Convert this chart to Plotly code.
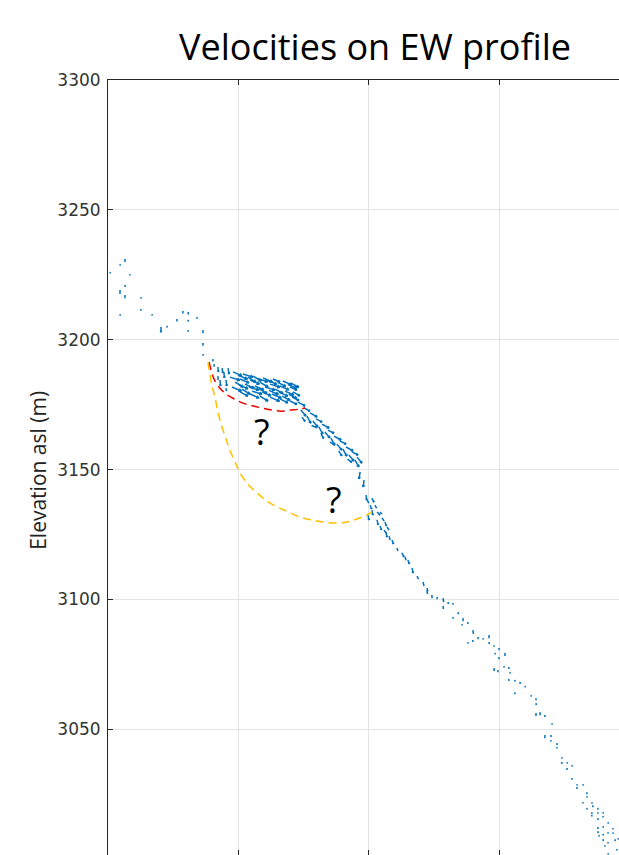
import math
import plotly.graph_objects as go

# ---------------- data (horizontal distance in m, elevation asl in m) ----------------
# sparse vectors on the upper slope
upper_x = [6.5, 4.6, 0.8, 8.4, 6.5, 4.6, 6.5, 12.6, 12.6, 4.6, 16.9, 28.7, 30.7, 26.4, 30.7, 34.1,
           20.3, 22.6, 30.7, 36.4, 36.4, 36.4, 40.2, 40.6]
upper_y = [3231.1, 3229.1, 3226.1, 3225.3, 3221.1, 3219.1, 3217.2, 3216.4, 3211.8, 3209.9, 3209.9,
           3211.1, 3210.7, 3208.0, 3207.6, 3208.7, 3204.9, 3205.3, 3203.7, 3203.7, 3198.7, 3194.5,
           3192.6, 3190.6]
upper_u = [0.0, 0.1, 0.1, 0.0, 0.1, 0.0, 0.0, 0.1, 0.0, 0.1, 0.0, 0.0, 0.1, 0.0, 0.1, 0.0,
           0.0, 0.1, 0.0, 0.0, 0.0, 0.1, 0.0, 0.1]
upper_v = [-1.2, -0.6, -0.6, -0.6, -0.8, -1.5, -1.2, -0.6, -0.6, -0.6, -0.6, -1.0, -1.0, -1.0,
           -0.6, -0.6, -2.0, -0.6, -0.6, -1.2, -1.0, -0.6, -1.0, -1.0]

# headwall vectors (nearly vertical)
head_x = [42.1, 42.1, 42.9, 43.7, 44.4, 45.2, 46.0, 45.2]
head_y = [3189.5, 3186.0, 3184.5, 3189.1, 3187.6, 3184.5, 3189.1, 3181.4]
head_u = [0.2, 0.1, 0.2, 0.3, 0.2, 0.3, 0.4, 0.2]
head_v = [-1.9, -1.5, -2.3, -1.9, -2.3, -2.3, -2.3, -1.2]

# fast moving body (dense cluster)
body_x = [47.9, 51.7, 55.6, 59.4, 63.2, 67.0, 70.1,
          46.7, 50.6, 54.4, 58.2, 62.1, 65.9, 69.7,
          48.7, 52.5, 56.3, 60.2, 64.0, 67.8, 70.9,
          47.5, 51.3, 55.2, 59.0, 62.8, 66.7, 70.5,
          50.6, 54.4, 58.2, 62.1, 65.9, 69.7,
          49.8, 53.6, 57.4, 61.3, 65.1, 68.9,
          50.2, 54.0, 57.8, 61.7, 65.5, 69.3]
body_y = [3187.6, 3186.8, 3186.0, 3185.3, 3184.9, 3184.1, 3183.3,
          3185.6, 3184.9, 3184.5, 3183.7, 3182.9, 3182.2, 3181.8,
          3183.7, 3182.9, 3182.2, 3181.8, 3181.0, 3180.2, 3179.9,
          3181.8, 3181.0, 3180.2, 3179.9, 3179.1, 3178.3, 3177.9,
          3179.9, 3179.1, 3178.3, 3177.9, 3177.2, 3176.4,
          3186.4, 3185.6, 3185.0, 3184.3, 3183.6, 3182.8,
          3182.6, 3181.8, 3181.2, 3180.5, 3179.8, 3179.0]
body_u = [3.4, 3.8, 3.1, 3.6, 2.7, 3.4, 3.0,
          3.8, 3.4, 3.6, 3.1, 3.8, 3.4, 2.7,
          3.1, 3.6, 3.4, 3.8, 3.0, 3.4, 2.6,
          3.6, 3.1, 3.8, 3.4, 3.6, 3.0, 2.7,
          3.0, 3.4, 3.1, 3.6, 3.0, 2.7,
          3.6, 3.1, 3.8, 3.4, 3.0, 3.4,
          3.4, 3.8, 3.1, 3.6, 3.4, 3.0]
body_v = [-1.5, -1.2, -1.9, -1.6, -1.2, -1.5, -1.6,
          -1.2, -1.5, -1.6, -1.9, -1.2, -1.5, -1.2,
          -1.9, -1.6, -1.5, -1.2, -1.6, -1.5, -1.5,
          -1.6, -1.9, -1.2, -1.5, -1.6, -1.6, -1.3,
          -1.6, -1.5, -1.9, -1.6, -1.5, -1.3,
          -1.6, -1.9, -1.2, -1.5, -1.6, -1.5,
          -1.5, -1.2, -1.9, -1.6, -1.5, -1.6]

# steep front of the body
front_x = [72.8, 73.9, 75.1, 76.2, 77.4, 78.5, 79.7, 80.8, 82.0, 83.1, 84.3, 85.4, 86.6, 87.7,
           88.9, 90.0, 91.2, 92.3, 93.5, 94.6, 95.4, 74.3, 78.0, 81.6, 85.0, 88.4, 91.8]
front_y = [3176.0, 3172.9, 3173.7, 3170.6, 3171.8, 3168.7, 3169.5, 3166.4, 3167.5, 3164.5, 3165.2,
           3162.1, 3162.9, 3159.8, 3161.0, 3157.9, 3158.7, 3155.6, 3156.8, 3153.7, 3154.8,
           3170.2, 3167.0, 3163.8, 3160.6, 3157.2, 3154.0]
front_u = [2.7, 1.9, 2.3, 1.5, 2.7, 1.9, 2.3, 1.5, 2.7, 1.9, 2.3, 1.5, 2.7, 1.9,
           2.3, 1.5, 2.7, 1.9, 2.3, 1.5, 1.9, 1.2, 2.0, 1.0, 1.8, 1.2, 1.6]
front_v = [-1.5, -2.3, -1.2, -2.7, -1.5, -2.3, -1.2, -2.7, -1.5, -2.3, -1.2, -2.7, -1.5, -2.3,
           -1.2, -2.7, -1.5, -2.3, -1.2, -2.7, -2.3, -1.6, -0.8, -1.8, -1.0, -1.9, -1.2]

# toe area
toe_x = [96.6, 98.1, 98.9, 99.2, 100.4, 101.1, 103.1, 104.2, 103.1, 106.1, 106.9, 106.5, 108.8,
         110.7, 112.6, 113.8, 114.9, 116.5, 118.4, 120.7, 122.2, 101.1, 102.3, 99.6, 105.0,
         104.2, 105.8, 107.7]
toe_y = [3149.1, 3146.0, 3140.2, 3138.3, 3136.3, 3134.4, 3133.7, 3133.7, 3130.6, 3129.8, 3127.9,
         3125.9, 3122.9, 3119.8, 3117.9, 3116.3, 3115.2, 3112.1, 3109.0, 3106.7, 3104.4, 3139.0,
         3136.3, 3132.5, 3131.4, 3128.3, 3126.7, 3124.4]
toe_u = [-0.4, -0.3, 0.2, 0.8, 0.6, 0.4, 1.1, 0.8, 0.4, 0.6, 0.8, 0.4, 0.6, 0.4, 0.8, 0.4, 0.6,
         0.4, 0.6, 0.4, 0.4, 0.8, 0.6, 0.4, 0.8, 0.6, 0.8, 0.4]
toe_v = [-2.7, -2.7, -1.9, -1.2, -1.5, -1.9, -1.2, -0.8, -1.9, -1.5, -1.2, -1.9, -1.5, -1.2,
         -1.5, -1.2, -1.5, -1.9, -1.2, -1.5, -1.2, -1.5, -1.2, -1.9, -1.2, -1.5, -1.2, -1.5]

# lower slope (slow)
lower_x = [122.2, 124.1, 126.1, 128.4, 130.3, 132.2, 128.4, 134.1, 132.2, 136.0, 137.9, 135.6,
           139.8, 139.8, 137.9, 141.8, 143.7, 146.0, 146.0, 147.9, 149.8, 152.1, 148.3, 149.8,
           147.9, 149.4, 151.7, 153.6, 154.0, 153.6, 155.9, 157.9, 159.8, 155.9, 162.1, 164.0,
           164.0, 164.0, 165.5, 167.4, 170.1, 167.4, 169.7, 169.7, 172.0, 172.0, 173.9, 173.9,
           175.9, 175.9, 177.8, 177.8, 179.7, 179.7, 182.0, 183.5, 183.5, 182.0, 185.4, 185.8,
           183.5, 185.4, 187.7, 187.7, 189.7, 185.4, 187.7, 189.7, 191.6, 187.7, 189.7, 193.5,
           187.7, 191.6, 189.7, 193.5, 189.7, 191.6, 195.4, 190.4, 188.1, 194.3, 191.6, 195.0]
lower_y = [3103.6, 3101.7, 3100.9, 3100.5, 3099.0, 3098.6, 3097.5, 3095.1, 3093.2, 3092.8, 3091.3,
           3090.5, 3088.2, 3084.4, 3083.6, 3085.5, 3085.1, 3086.3, 3083.6, 3082.4, 3081.3, 3079.4,
           3079.4, 3077.8, 3073.6, 3072.8, 3074.3, 3074.0, 3072.0, 3069.4, 3069.0, 3068.2, 3066.7,
           3064.3, 3063.2, 3062.0, 3060.1, 3056.3, 3056.6, 3055.5, 3052.4, 3047.8, 3047.8, 3045.9,
           3044.7, 3043.2, 3039.3, 3037.4, 3037.4, 3035.1, 3036.2, 3031.2, 3028.9, 3027.8, 3028.9,
           3025.8, 3024.3, 3022.0, 3022.0, 3020.8, 3019.7, 3018.1, 3019.7, 3018.1, 3018.1, 3017.0,
           3015.8, 3016.6, 3014.3, 3012.4, 3012.7, 3012.0, 3010.8, 3010.4, 3009.7, 3010.4, 3007.7,
           3006.6, 3008.1, 3005.4, 3009.3, 3007.7, 3002.3, 3003.9]
lower_u = [0.2, 0.1, 0.0, 0.2, 0.1, 0.0, 0.1, 0.2, 0.0, 0.1, 0.0, 0.1, 0.2, 0.0, 0.1, 0.0, 0.1,
           0.0, 0.1, 0.0, 0.1, 0.0, 0.1, 0.0, 0.1, 0.0, 0.1, 0.0, 0.1, 0.0, 0.1, 0.0, 0.1, 0.0,
           0.1, 0.0, 0.1, 0.0, 0.1, 0.0, 0.1, 0.0, 0.1, 0.0, 0.1, 0.0, 0.1, 0.0, 0.1, 0.0, 0.1,
           0.0, 0.1, 0.0, 0.1, 0.0, 0.1, 0.0, 0.1, 0.0, 0.1, 0.0, 0.1, 0.0, 0.1, 0.0, 0.1, 0.0,
           0.1, 0.0, 0.1, 0.0, 0.1, 0.0, 0.1, 0.0, 0.1, 0.0, 0.1, 0.0, 0.1, 0.0, 0.1, 0.0]
lower_v = [-1.5, -1.2, -0.8, -1.5, -0.8, -0.6, -1.2, -0.8, -0.6, -1.2, -0.8, -0.6, -1.5, -0.8,
           -0.6, -0.8, -0.6, -1.2, -0.8, -0.6, -0.8, -1.2, -0.6, -0.8, -1.2, -0.8, -0.6, -0.8,
           -0.6, -0.8, -0.6, -0.8, -0.6, -0.8, -0.6, -0.8, -0.8, -1.2, -1.2, -0.8, -0.6, -1.2,
           -0.8, -0.6, -0.8, -0.6, -0.6, -0.8, -0.6, -0.8, -0.6, -0.6, -0.6, -0.8, -0.6, -0.8,
           -0.6, -0.6, -0.6, -0.8, -0.6, -0.8, -0.6, -0.6, -0.6, -0.6, -0.8, -0.6, -0.6, -0.8,
           -0.6, -0.6, -0.8, -0.6, -0.6, -0.6, -0.8, -0.6, -0.6, -0.6, -0.6, -0.8, -0.6, -0.6]

# interpreted sliding surfaces
shallow_x = [38.7, 39.5, 40.6, 42.5, 45.2, 48.3, 51.7, 55.6, 59.0, 62.8, 66.3, 70.1, 73.6, 75.5]
shallow_y = [3191.4, 3188.3, 3184.9, 3181.8, 3179.1, 3177.2, 3175.6, 3174.5, 3173.7, 3172.9,
             3172.5, 3172.9, 3173.3, 3173.7]
deep_x = [38.3, 39.1, 39.8, 41.0, 42.1, 43.7, 45.2, 46.7, 48.7, 50.6, 53.6, 57.1, 60.9, 64.8,
          69.0, 73.6, 78.2, 82.4, 87.0, 91.6, 95.4, 99.2, 101.1]
deep_y = [3191.4, 3186.4, 3182.2, 3177.9, 3172.2, 3166.4, 3161.8, 3157.5, 3152.9, 3148.7, 3144.4,
          3141.0, 3137.9, 3135.6, 3133.7, 3131.7, 3130.6, 3129.8, 3129.4, 3129.8, 3131.0, 3132.5,
          3133.7]

question_x = [59.0, 86.6]
question_y = [3164.5, 3138.3]

y_ticks = [3000, 3050, 3100, 3150, 3200, 3250, 3300]
x_ticks = [0, 50, 100, 150]

# ---------------- build quiver segments (shaft + small head) ----------------
seg_x, seg_y = [], []
for xs, ys, us, vs in [(upper_x, upper_y, upper_u, upper_v),
                       (head_x, head_y, head_u, head_v),
                       (body_x, body_y, body_u, body_v),
                       (front_x, front_y, front_u, front_v),
                       (toe_x, toe_y, toe_u, toe_v),
                       (lower_x, lower_y, lower_u, lower_v)]:
    for x0, y0, u, v in zip(xs, ys, us, vs):
        x1, y1 = x0 + u, y0 + v
        seg_x += [x0, x1, None]
        seg_y += [y0, y1, None]
        L = math.hypot(u, v)
        if L > 1.6:
            hl = 0.3 * L
            a = math.atan2(v, u)
            for s in (1, -1):
                b = a + math.pi - s * 0.45
                seg_x += [x1, x1 + hl * math.cos(b), None]
                seg_y += [y1, y1 + hl * math.sin(b), None]

BLUE = "#0072BD"
AX = "#262626"
GRID = "#e3e3e3"

fig = go.Figure()
fig.add_trace(go.Scatter(x=seg_x, y=seg_y, mode="lines",
                         line=dict(color=BLUE, width=1.5), hoverinfo="skip", showlegend=False))
fig.add_trace(go.Scatter(x=shallow_x, y=shallow_y, mode="lines",
                         line=dict(color="#ee0000", width=1.5, dash="8px,5px", shape="spline"),
                         hoverinfo="skip", showlegend=False))
fig.add_trace(go.Scatter(x=deep_x, y=deep_y, mode="lines",
                         line=dict(color="#ffc000", width=1.5, dash="8px,5px", shape="spline"),
                         hoverinfo="skip", showlegend=False))
# carrier for the bottom tick marks
fig.add_trace(go.Scatter(x=[None], y=[None], xaxis="x2", mode="markers",
                         hoverinfo="skip", showlegend=False))

for qx, qy in zip(question_x, question_y):
    fig.add_annotation(x=qx, y=qy, text="?", showarrow=False,
                       font=dict(family="Open Sans", size=36, color="black"),
                       xanchor="center", yanchor="middle")

fig.add_annotation(xref="paper", yref="paper", x=0.5225, y=1.0426,
                   text="Velocities on EW profile", showarrow=False,
                   font=dict(family="Open Sans", size=36, color="black"),
                   xanchor="center", yanchor="middle")
fig.add_annotation(xref="paper", yref="paper", x=-0.137, y=0.497,
                   text="Elevation asl (m)", showarrow=False, textangle=-90,
                   font=dict(family="Open Sans", size=21, color="#222222"),
                   xanchor="center", yanchor="middle")

fig.update_layout(
    width=619, height=855,
    margin=dict(l=108, r=0, t=80, b=0, autoexpand=False),
    paper_bgcolor="white", plot_bgcolor="white",
    xaxis=dict(range=[0, 195.8], tickvals=x_ticks, side="top", showgrid=True, gridcolor=GRID,
               gridwidth=1, showline=True, linecolor=AX, linewidth=1, ticks="inside",
               ticklen=5, tickcolor=AX, showticklabels=False, zeroline=False, automargin=False),
    xaxis2=dict(range=[0, 195.8], tickvals=x_ticks, overlaying="x", anchor="y", side="bottom",
                showgrid=False, showline=False, ticks="inside", ticklen=5, tickcolor=AX,
                showticklabels=False, zeroline=False, automargin=False),
    yaxis=dict(range=[3001.6, 3300], tickvals=y_ticks, showgrid=True, gridcolor=GRID,
               gridwidth=1, showline=True, linecolor=AX, linewidth=1, ticks="inside",
               ticklen=5, tickcolor=AX, zeroline=False, automargin=False, ticklabelstandoff=3,
               tickfont=dict(family="DejaVu Sans", size=17, color="#333333")),
)

# remove the default page margin so the 619x855 figure fills the window exactly
fig.write_html("out.html", config={"displayModeBar": False},
               post_script="document.body.style.margin='0';document.body.style.overflow='hidden';")
